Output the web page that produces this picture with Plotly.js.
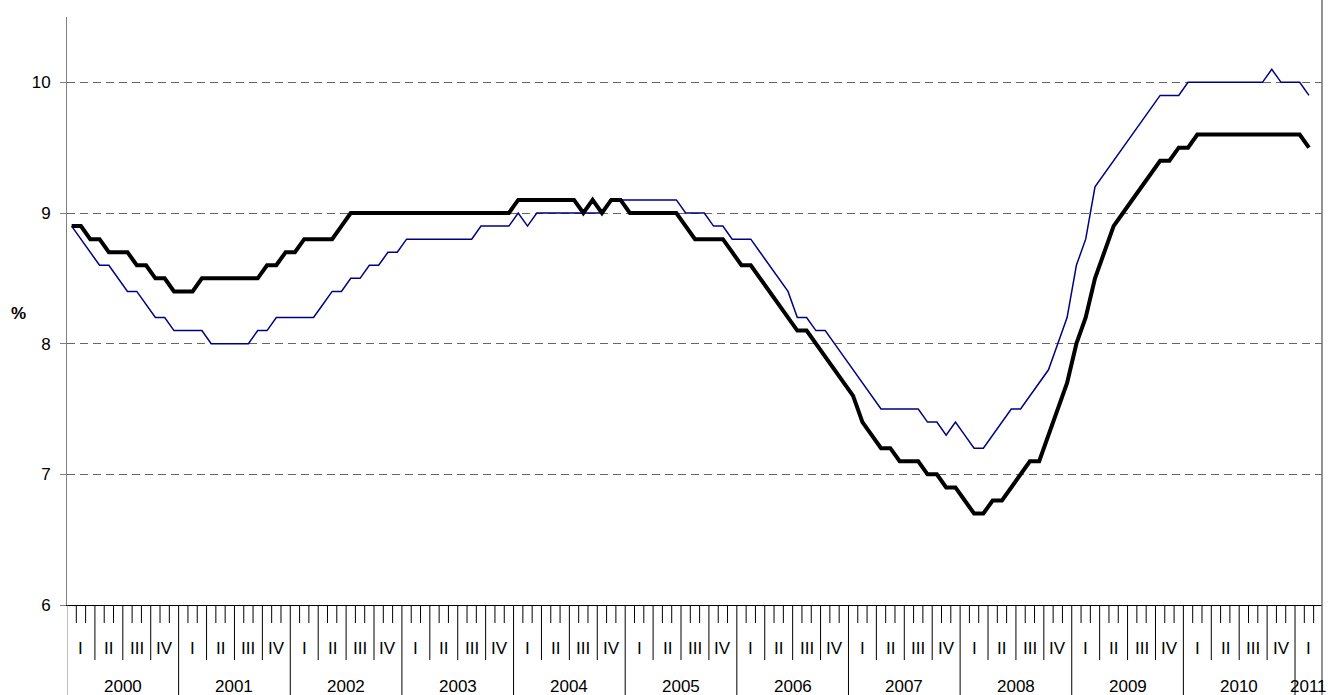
<!DOCTYPE html>
<html>
<head>
<meta charset="utf-8">
<script src="https://cdn.plot.ly/plotly-3.0.1.min.js"></script>
<style>
  html, body { margin: 0; padding: 0; background: #ffffff; }
  #chart { width: 1328px; height: 695px; }
</style>
</head>
<body>
<div id="chart"></div>
<script>
// ---- Data (monthly, Jan 2000 .. Feb 2011) ----
const years = [2000, 2001, 2002, 2003, 2004, 2005, 2006, 2007, 2008, 2009, 2010, 2011];
const quarterLabels = ['I', 'II', 'III', 'IV'];

// thick black series
const seriesBlack = [
  8.9, 8.9, 8.8, 8.8, 8.7, 8.7, 8.7, 8.6, 8.6, 8.5, 8.5, 8.4,   // 2000
  8.4, 8.4, 8.5, 8.5, 8.5, 8.5, 8.5, 8.5, 8.5, 8.6, 8.6, 8.7,   // 2001
  8.7, 8.8, 8.8, 8.8, 8.8, 8.9, 9.0, 9.0, 9.0, 9.0, 9.0, 9.0,   // 2002
  9.0, 9.0, 9.0, 9.0, 9.0, 9.0, 9.0, 9.0, 9.0, 9.0, 9.0, 9.0,   // 2003
  9.1, 9.1, 9.1, 9.1, 9.1, 9.1, 9.1, 9.0, 9.1, 9.0, 9.1, 9.1,   // 2004
  9.0, 9.0, 9.0, 9.0, 9.0, 9.0, 8.9, 8.8, 8.8, 8.8, 8.8, 8.7,   // 2005
  8.6, 8.6, 8.5, 8.4, 8.3, 8.2, 8.1, 8.1, 8.0, 7.9, 7.8, 7.7,   // 2006
  7.6, 7.4, 7.3, 7.2, 7.2, 7.1, 7.1, 7.1, 7.0, 7.0, 6.9, 6.9,   // 2007
  6.8, 6.7, 6.7, 6.8, 6.8, 6.9, 7.0, 7.1, 7.1, 7.3, 7.5, 7.7,   // 2008
  8.0, 8.2, 8.5, 8.7, 8.9, 9.0, 9.1, 9.2, 9.3, 9.4, 9.4, 9.5,   // 2009
  9.5, 9.6, 9.6, 9.6, 9.6, 9.6, 9.6, 9.6, 9.6, 9.6, 9.6, 9.6,   // 2010
  9.6, 9.5                                                      // 2011
];

// thin navy series
const seriesNavy = [
  8.9, 8.8, 8.7, 8.6, 8.6, 8.5, 8.4, 8.4, 8.3, 8.2, 8.2, 8.1,   // 2000
  8.1, 8.1, 8.1, 8.0, 8.0, 8.0, 8.0, 8.0, 8.1, 8.1, 8.2, 8.2,   // 2001
  8.2, 8.2, 8.2, 8.3, 8.4, 8.4, 8.5, 8.5, 8.6, 8.6, 8.7, 8.7,   // 2002
  8.8, 8.8, 8.8, 8.8, 8.8, 8.8, 8.8, 8.8, 8.9, 8.9, 8.9, 8.9,   // 2003
  9.0, 8.9, 9.0, 9.0, 9.0, 9.0, 9.0, 9.0, 9.0, 9.0, 9.1, 9.1,   // 2004
  9.1, 9.1, 9.1, 9.1, 9.1, 9.1, 9.0, 9.0, 9.0, 8.9, 8.9, 8.8,   // 2005
  8.8, 8.8, 8.7, 8.6, 8.5, 8.4, 8.2, 8.2, 8.1, 8.1, 8.0, 7.9,   // 2006
  7.8, 7.7, 7.6, 7.5, 7.5, 7.5, 7.5, 7.5, 7.4, 7.4, 7.3, 7.4,   // 2007
  7.3, 7.2, 7.2, 7.3, 7.4, 7.5, 7.5, 7.6, 7.7, 7.8, 8.0, 8.2,   // 2008
  8.6, 8.8, 9.2, 9.3, 9.4, 9.5, 9.6, 9.7, 9.8, 9.9, 9.9, 9.9,   // 2009
  10.0, 10.0, 10.0, 10.0, 10.0, 10.0, 10.0, 10.0, 10.0, 10.1, 10.0, 10.0, // 2010
  10.0, 9.9                                                     // 2011
];

const yTicks = [6, 7, 8, 9, 10];

// ---- Layout geometry ----
const W = 1328, H = 695;
const M = { l: 67, r: 6, t: 17, b: 90 };
const plotH = H - M.t - M.b;
const xMax = 134.4;              // right edge of category axis (months)
const monthIdx = seriesBlack.map((_, i) => i);

const px = v => -v / plotH;      // pixels below the x axis -> paper y

const FONT = 'Liberation Sans, Arial, Helvetica, sans-serif';
const FS = 17;

// ---- Multi-level category axis (months / quarters / years) ----
const shapes = [];
const nBoundaries = Math.floor(xMax + 0.5);
for (let k = 0; k <= nBoundaries; k++) {
  const xb = k - 0.5;
  if (xb > xMax) break;
  let len;
  if (k % 12 === 0) len = M.b;           // year divider to the bottom
  else if (k % 3 === 0) len = 55;        // quarter divider
  else len = 18;                         // month tick
  shapes.push({
    type: 'line', xref: 'x', yref: 'paper',
    x0: xb, x1: xb, y0: 0, y1: px(len),
    line: { color: k === 0 ? '#808080' : '#000000', width: 1 }
  });
}
// outer right border
shapes.push({
  type: 'line', xref: 'paper', yref: 'paper',
  x0: 1, x1: 1, y0: px(M.b), y1: 1 + M.t / plotH,
  line: { color: '#707070', width: 1.5 }
});

const annotations = [];
years.forEach((yr, yi) => {
  const start = yi * 12;
  quarterLabels.forEach((q, qi) => {
    const c = start + qi * 3 + 1;
    if (c - 1.5 < xMax) {
      annotations.push({
        text: q, xref: 'x', yref: 'paper', x: c, y: px(43),
        xanchor: 'center', yanchor: 'middle', showarrow: false,
        font: { family: FONT, size: FS, color: '#000' }
      });
    }
  });
  const endX = Math.min(start + 11.5, xMax);
  const cx = (start - 0.5 + endX) / 2;
  annotations.push({
    text: String(yr), xref: 'x', yref: 'paper', x: cx, y: px(81),
    xanchor: 'center', yanchor: 'middle', showarrow: false,
    font: { family: FONT, size: FS, color: '#000' }
  });
});
// y axis unit label
annotations.push({
  text: '<b>%</b>', xref: 'paper', yref: 'paper',
  x: -(67 - 18) / (W - M.l - M.r), y: (605 - 313) / plotH,
  xanchor: 'center', yanchor: 'middle', showarrow: false,
  font: { family: FONT, size: 17, color: '#000' }
});

const traces = [
  {
    x: monthIdx, y: seriesNavy, type: 'scatter', mode: 'lines',
    line: { color: '#000080', width: 1.5 }, hoverinfo: 'skip'
  },
  {
    x: monthIdx, y: seriesBlack, type: 'scatter', mode: 'lines',
    line: { color: '#000000', width: 4 }, hoverinfo: 'skip'
  }
];

const layout = {
  width: W, height: H,
  margin: M,
  paper_bgcolor: '#ffffff', plot_bgcolor: '#ffffff',
  showlegend: false,
  font: { family: FONT, size: FS, color: '#000' },
  xaxis: {
    type: 'linear', range: [-0.5, xMax],
    showticklabels: false, ticks: '', showgrid: false, zeroline: false,
    showline: true, linecolor: '#000000', linewidth: 1, fixedrange: true
  },
  yaxis: {
    range: [6, 10.5], tickvals: yTicks, ticktext: yTicks.map(String),
    ticks: 'outside', ticklen: 6, tickcolor: '#808080', tickwidth: 1,
    ticklabelstandoff: 6,
    showline: true, linecolor: '#808080', linewidth: 1,
    showgrid: true, gridcolor: '#666666', gridwidth: 1, griddash: '8px,5px',
    zeroline: false, fixedrange: true,
    tickfont: { family: FONT, size: FS, color: '#000' }
  },
  shapes: shapes,
  annotations: annotations
};

Plotly.newPlot('chart', traces, layout, { displayModeBar: false, staticPlot: true });
</script>
</body>
</html>
